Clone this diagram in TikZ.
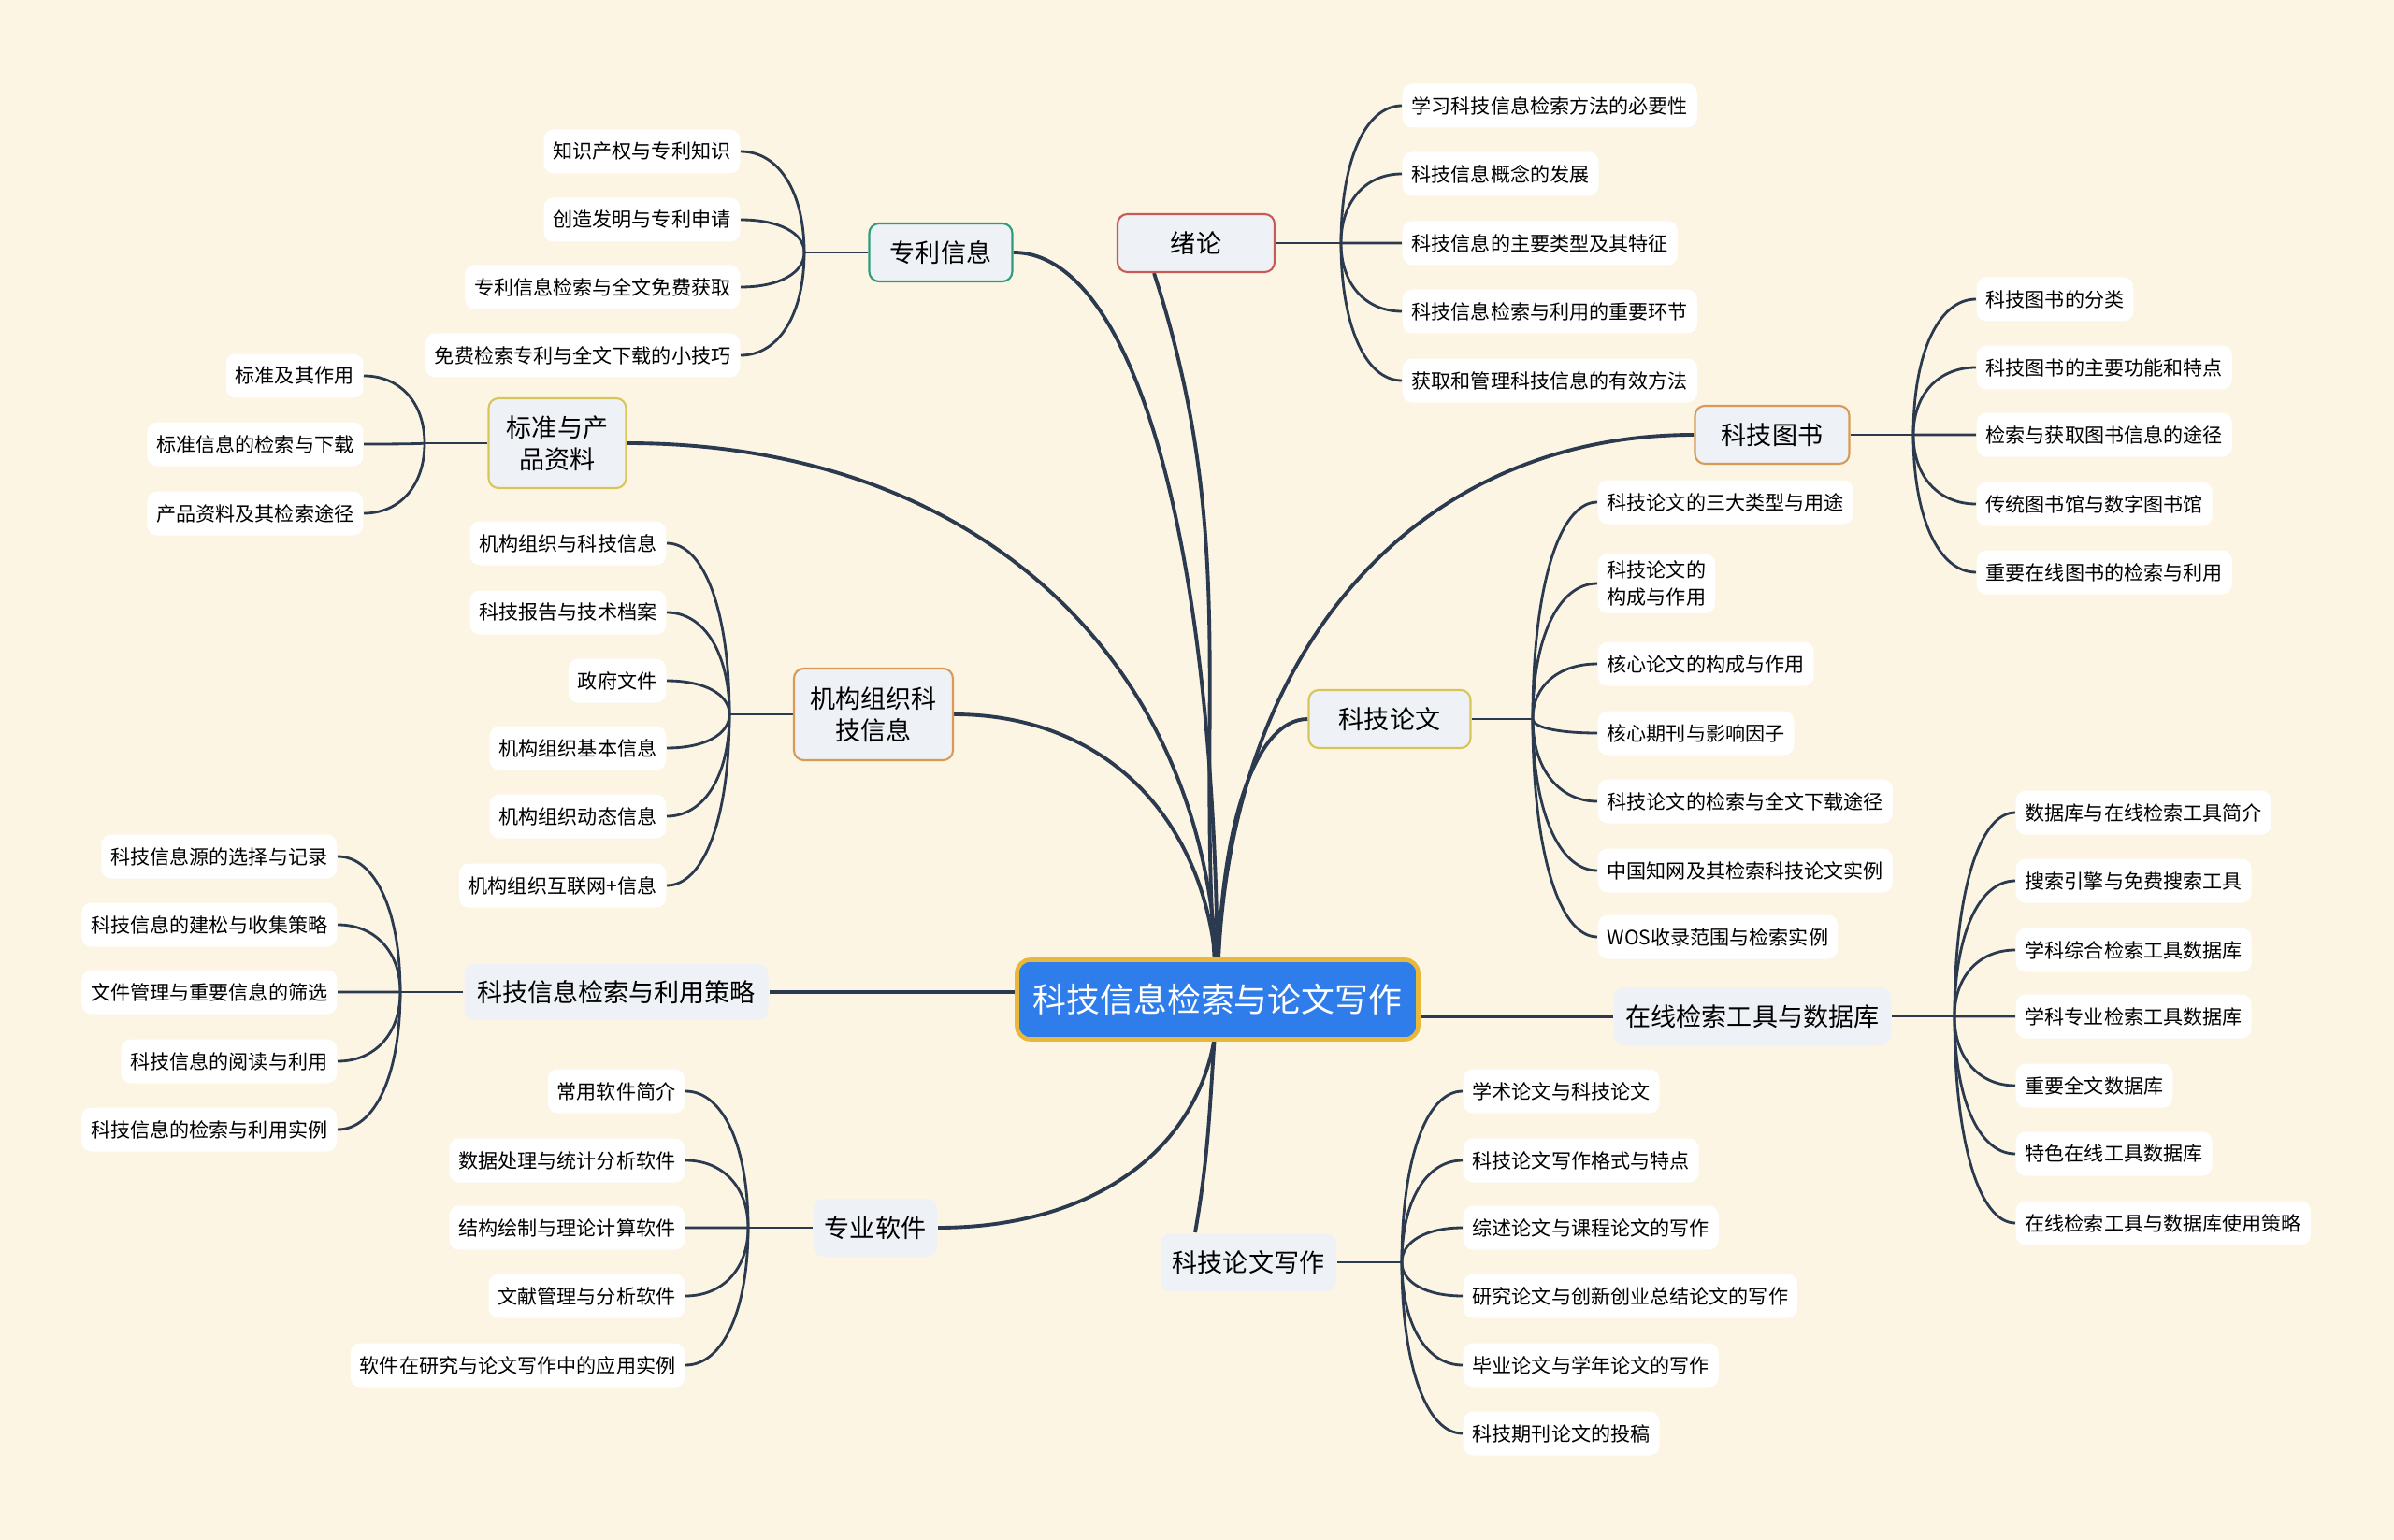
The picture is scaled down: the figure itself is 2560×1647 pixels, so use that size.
\documentclass[tikz,border=0pt]{standalone}
\usepackage{fontspec}
\setmainfont{Noto Sans CJK SC}
\usepackage{xcolor}
\usepackage{tikz}
\usetikzlibrary{positioning,calc,backgrounds}
\definecolor{paper}{HTML}{FCF5E3}
\definecolor{wire}{HTML}{2B3A4E}
\definecolor{topicfill}{HTML}{EEF1F5}
\definecolor{hubblue}{HTML}{2F7DEB}
\definecolor{hubrim}{HTML}{E8B83A}
\definecolor{rimred}{HTML}{C85A55}
\definecolor{rimgreen}{HTML}{2E9C7A}
\definecolor{rimyellow}{HTML}{D8C55A}
\definecolor{rimorange}{HTML}{D89A55}
\tikzset{
  hubbox/.style={draw=hubrim, line width=1.3pt, fill=hubblue, text=white, rounded corners=4pt, font=\fontsize{10.2}{12}\selectfont, minimum width=42.9mm, minimum height=8.5mm},
  topicbox/.style={fill=topicfill, rounded corners=3pt, line width=0.6pt, align=center, font=\fontsize{7.7}{9.6}\selectfont, minimum height=6.2mm},
  leafbox/.style={fill=white, rounded corners=3pt, align=left, font=\fontsize{6}{8}\selectfont, minimum height=4.7mm, inner xsep=1mm, inner ysep=0.8mm},
  mainline/.style={draw=wire, line width=1.1pt},
  subline/.style={draw=wire, line width=0.8pt},
}

\begin{document}
\begin{tikzpicture}[x=0.1mm, y=0.1mm,
  leafl/.style={leafbox, anchor=east},
  leafr/.style={leafbox, anchor=west}]
  \useasboundingbox (0,0) rectangle (2560,-1647);
  % centre and main topics
  \node[hubbox] (root) at (1302,-1069) {科技信息检索与论文写作};
  \node[topicbox, draw=rimred, minimum width=16.8mm] (intro) at (1279,-260) {绪论};
  \node[topicbox, draw=rimgreen, minimum width=15.3mm] (patent) at (1006,-270) {专利信息};
  \node[topicbox, draw=rimyellow, minimum width=14.7mm, minimum height=9.6mm] (std) at (596,-474) {标准与产\\品资料};
  \node[topicbox, draw=rimorange, minimum width=17mm, minimum height=9.8mm] (org) at (934,-764) {机构组织科\\技信息};
  \node[topicbox, minimum width=32.5mm, minimum height=6mm] (strat) at (659,-1061) {科技信息检索与利用策略};
  \node[topicbox, minimum width=13.2mm] (soft) at (936,-1313) {专业软件};
  \node[topicbox, minimum width=18.8mm] (write) at (1335,-1350) {科技论文写作};
  \node[topicbox, minimum width=29.6mm] (online) at (1874,-1087) {在线检索工具与数据库};
  \node[topicbox, draw=rimyellow, minimum width=17.3mm] (thesis) at (1486,-769) {科技论文};
  \node[topicbox, draw=rimorange, minimum width=16.5mm] (book) at (1895,-465) {科技图书};
  % junctions
  \coordinate (jintro) at (1434,-260);
  \coordinate (jpatent) at (860,-270);
  \coordinate (jstd) at (454,-474);
  \coordinate (jorg) at (780,-764);
  \coordinate (jstrat) at (428,-1061);
  \coordinate (jsoft) at (800,-1313);
  \coordinate (jwrite) at (1499,-1350);
  \coordinate (jonline) at (2090,-1087);
  \coordinate (jthesis) at (1639,-769);
  \coordinate (jbook) at (2046,-465);
  % leaves
  \node[leafr] (intro1) at (1499,-113) {学习科技信息检索方法的必要性};
  \node[leafr] (intro2) at (1499,-186) {科技信息概念的发展};
  \node[leafr] (intro3) at (1499,-260) {科技信息的主要类型及其特征};
  \node[leafr] (intro4) at (1499,-333) {科技信息检索与利用的重要环节};
  \node[leafr] (intro5) at (1499,-407) {获取和管理科技信息的有效方法};
  \node[leafl] (patent1) at (792,-162) {知识产权与专利知识};
  \node[leafl] (patent2) at (792,-235) {创造发明与专利申请};
  \node[leafl] (patent3) at (792,-307) {专利信息检索与全文免费获取};
  \node[leafl] (patent4) at (792,-380) {免费检索专利与全文下载的小技巧};
  \node[leafl] (std1) at (389,-402) {标准及其作用};
  \node[leafl] (std2) at (389,-475) {标准信息的检索与下载};
  \node[leafl] (std3) at (389,-549) {产品资料及其检索途径};
  \node[leafl] (org1) at (713,-581) {机构组织与科技信息};
  \node[leafl] (org2) at (713,-655) {科技报告与技术档案};
  \node[leafl] (org3) at (713,-728) {政府文件};
  \node[leafl] (org4) at (713,-800) {机构组织基本信息};
  \node[leafl] (org5) at (713,-873) {机构组织动态信息};
  \node[leafl] (org6) at (713,-947) {机构组织互联网+信息};
  \node[leafl] (strat1) at (361,-916) {科技信息源的选择与记录};
  \node[leafl] (strat2) at (361,-989) {科技信息的建松与收集策略};
  \node[leafl] (strat3) at (361,-1061) {文件管理与重要信息的筛选};
  \node[leafl] (strat4) at (361,-1135) {科技信息的阅读与利用};
  \node[leafl] (strat5) at (361,-1208) {科技信息的检索与利用实例};
  \node[leafl] (soft1) at (733,-1167) {常用软件简介};
  \node[leafl] (soft2) at (733,-1241) {数据处理与统计分析软件};
  \node[leafl] (soft3) at (733,-1313) {结构绘制与理论计算软件};
  \node[leafl] (soft4) at (733,-1386) {文献管理与分析软件};
  \node[leafl] (soft5) at (733,-1460) {软件在研究与论文写作中的应用实例};
  \node[leafr] (write1) at (1564,-1167) {学术论文与科技论文};
  \node[leafr] (write2) at (1564,-1241) {科技论文写作格式与特点};
  \node[leafr] (write3) at (1564,-1313) {综述论文与课程论文的写作};
  \node[leafr] (write4) at (1564,-1386) {研究论文与创新创业总结论文的写作};
  \node[leafr] (write5) at (1564,-1460) {毕业论文与学年论文的写作};
  \node[leafr] (write6) at (1564,-1533) {科技期刊论文的投稿};
  \node[leafr] (online1) at (2155,-869) {数据库与在线检索工具简介};
  \node[leafr] (online2) at (2155,-942) {搜索引擎与免费搜索工具};
  \node[leafr] (online3) at (2155,-1016) {学科综合检索工具数据库};
  \node[leafr] (online4) at (2155,-1087) {学科专业检索工具数据库};
  \node[leafr] (online5) at (2155,-1161) {重要全文数据库};
  \node[leafr] (online6) at (2155,-1234) {特色在线工具数据库};
  \node[leafr] (online7) at (2155,-1308) {在线检索工具与数据库使用策略};
  \node[leafr] (thesis1) at (1708,-537) {科技论文的三大类型与用途};
  \node[leafr] (thesis2) at (1708,-624) {科技论文的\\构成与作用};
  \node[leafr] (thesis3) at (1708,-710) {核心论文的构成与作用};
  \node[leafr] (thesis4) at (1708,-784) {核心期刊与影响因子};
  \node[leafr] (thesis5) at (1708,-857) {科技论文的检索与全文下载途径};
  \node[leafr] (thesis6) at (1708,-931) {中国知网及其检索科技论文实例};
  \node[leafr] (thesis7) at (1708,-1002) {WOS收录范围与检索实例};
  \node[leafr] (book1) at (2113,-320) {科技图书的分类};
  \node[leafr] (book2) at (2113,-393) {科技图书的主要功能和特点};
  \node[leafr] (book3) at (2113,-465) {检索与获取图书信息的途径};
  \node[leafr] (book4) at (2113,-539) {传统图书馆与数字图书馆};
  \node[leafr] (book5) at (2113,-612) {重要在线图书的检索与利用};
  \begin{scope}[on background layer]
    \fill[paper] (0,0) rectangle (2560,-1647);
    % centre to main topics
    \draw[mainline] (patent.east) .. controls ($(patent.east)!0.6!(root |- patent.east)$) and ($(root.center)!0.6!(root |- patent.east)$) .. (root.center);
    \draw[mainline] (std.east) .. controls ($(std.east)!0.6!(root |- std.east)$) and ($(root.center)!0.6!(root |- std.east)$) .. (root.center);
    \draw[mainline] (org.east) .. controls ($(org.east)!0.6!(root |- org.east)$) and ($(root.center)!0.6!(root |- org.east)$) .. (root.center);
    \draw[mainline] (soft.east) .. controls ($(soft.east)!0.6!(root |- soft.east)$) and ($(root.center)!0.6!(root |- soft.east)$) .. (root.center);
    \draw[mainline] (book.west) .. controls ($(book.west)!0.6!(root |- book.west)$) and ($(root.center)!0.6!(root |- book.west)$) .. (root.center);
    \draw[mainline] (thesis.west) .. controls ($(thesis.west)!0.6!(root |- thesis.west)$) and ($(root.center)!0.6!(root |- thesis.west)$) .. (root.center);
    \draw[mainline] ($(intro.south)+(-45,0)$) to[out=-72, in=95] (root.center);
    \draw[mainline] ($(write.north)+(-57,0)$) to[out=80, in=-95] (root.center);
    \draw[mainline] (strat.east) -- (root.west |- strat.east);
    \draw[mainline] (online.west) -- (root.east |- online.west);
    % main topics to leaves
    \draw[subline] (intro.east) -- (jintro);
    \foreach \c in {intro1,intro2,intro3,intro4,intro5}
      \draw[subline] (jintro) .. controls ($(jintro)!0.6!(jintro |- \c.west)$) and ($(\c.west)!0.6!(jintro |- \c.west)$) .. (\c.west);
    \draw[subline] (book.east) -- (jbook);
    \foreach \c in {book1,book2,book3,book4,book5}
      \draw[subline] (jbook) .. controls ($(jbook)!0.6!(jbook |- \c.west)$) and ($(\c.west)!0.6!(jbook |- \c.west)$) .. (\c.west);
    \draw[subline] (thesis.east) -- (jthesis);
    \foreach \c in {thesis1,thesis2,thesis3,thesis4,thesis5,thesis6,thesis7}
      \draw[subline] (jthesis) .. controls ($(jthesis)!0.6!(jthesis |- \c.west)$) and ($(\c.west)!0.6!(jthesis |- \c.west)$) .. (\c.west);
    \draw[subline] (online.east) -- (jonline);
    \foreach \c in {online1,online2,online3,online4,online5,online6,online7}
      \draw[subline] (jonline) .. controls ($(jonline)!0.6!(jonline |- \c.west)$) and ($(\c.west)!0.6!(jonline |- \c.west)$) .. (\c.west);
    \draw[subline] (write.east) -- (jwrite);
    \foreach \c in {write1,write2,write3,write4,write5,write6}
      \draw[subline] (jwrite) .. controls ($(jwrite)!0.6!(jwrite |- \c.west)$) and ($(\c.west)!0.6!(jwrite |- \c.west)$) .. (\c.west);
    \draw[subline] (patent.west) -- (jpatent);
    \foreach \c in {patent1,patent2,patent3,patent4}
      \draw[subline] (jpatent) .. controls ($(jpatent)!0.6!(jpatent |- \c.east)$) and ($(\c.east)!0.6!(jpatent |- \c.east)$) .. (\c.east);
    \draw[subline] (std.west) -- (jstd);
    \foreach \c in {std1,std2,std3}
      \draw[subline] (jstd) .. controls ($(jstd)!0.6!(jstd |- \c.east)$) and ($(\c.east)!0.6!(jstd |- \c.east)$) .. (\c.east);
    \draw[subline] (org.west) -- (jorg);
    \foreach \c in {org1,org2,org3,org4,org5,org6}
      \draw[subline] (jorg) .. controls ($(jorg)!0.6!(jorg |- \c.east)$) and ($(\c.east)!0.6!(jorg |- \c.east)$) .. (\c.east);
    \draw[subline] (strat.west) -- (jstrat);
    \foreach \c in {strat1,strat2,strat3,strat4,strat5}
      \draw[subline] (jstrat) .. controls ($(jstrat)!0.6!(jstrat |- \c.east)$) and ($(\c.east)!0.6!(jstrat |- \c.east)$) .. (\c.east);
    \draw[subline] (soft.west) -- (jsoft);
    \foreach \c in {soft1,soft2,soft3,soft4,soft5}
      \draw[subline] (jsoft) .. controls ($(jsoft)!0.6!(jsoft |- \c.east)$) and ($(\c.east)!0.6!(jsoft |- \c.east)$) .. (\c.east);
  \end{scope}
\end{tikzpicture}
\end{document}
